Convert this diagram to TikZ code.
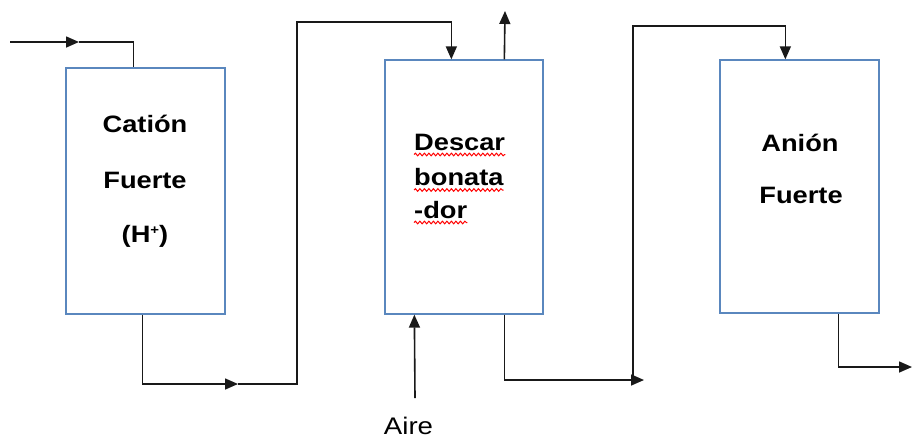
\documentclass[tikz,border=0pt]{standalone}
\usepackage{fontspec}
\setmainfont[FakeStretch=1.15]{Liberation Sans}
\usetikzlibrary{arrows.meta,calc,decorations.pathmorphing}
\definecolor{boxblue}{RGB}{90,135,190}
\begin{document}
\begin{tikzpicture}[x=1pt,y=-1pt,
  vessel/.style={draw=boxblue,line width=1.3pt,inner sep=0pt},
  conn/.style={draw=black!90,line width=1.6pt},
  tip/.style={-{Triangle[length=13pt,width=11pt]}},
  lbl/.style={font=\fontsize{23.7}{28}\selectfont\bfseries,inner sep=0pt,anchor=base},
  lblw/.style={font=\fontsize{23.7}{28}\selectfont\bfseries,inner sep=0pt,anchor=base west},
  plain/.style={font=\fontsize{24}{28}\selectfont,inner sep=0pt,anchor=base},
  wavy/.style={draw=red,line width=1pt,decorate,decoration={snake,amplitude=1.3pt,segment length=4.5pt}}]
\useasboundingbox (0,0) rectangle (912,440);

% vessels
\node[vessel,minimum width=159pt,minimum height=246pt] (cat) at (145.5,191) {};
\node[vessel,minimum width=158pt,minimum height=254pt] (dec) at (464,187) {};
\node[vessel,minimum width=159pt,minimum height=253pt] (ani) at (799.5,186.5) {};

% labels
\node[lbl] (t1) at (145,132) {Catión};
\node[lbl] (t2) at (145,188) {Fuerte};
\node[lbl] (t3) at (145,242) {(H\raisebox{8pt}{\fontsize{13}{13}\selectfont+})};

\node[lblw] (d1) at (414,150) {Descar};
\node[lblw] (d2) at (414,185.5) {bonata};
\node[lblw] (d3) at (414,218) {-dor};
\foreach \n in {d1,d2,d3}
  \draw[wavy] ($(\n.base west)+(0,4.5)$) -- ($(\n.base east)+(0,4.5)$);

\node[lbl] (a1) at (800,151) {Anión};
\node[lbl] (a2) at (801,203) {Fuerte};

\node[plain] (aire) at (408.5,434) {Aire};

% feed
\coordinate (src) at (10,42);
\coordinate (m1) at (79,42);
\draw[conn,tip] (src) -- (m1);
\draw[conn] (m1) -| ($(cat.north west)+(68,0)$);

% cation -> decarbonator
\coordinate (m2) at (238,384);
\draw[conn,tip] ($(cat.south west)+(77,0)$) |- (m2);
\draw[conn,tip] (m2) -- (297,384) -- (297,22) -| ($(dec.north west)+(67,0)$);

% gas vent
\coordinate (vent) at (505,11);
\draw[conn,tip] ($(dec.north west)+(120,0)$) -- (vent);

% air
\coordinate (airin) at (415,398);
\draw[conn,tip] (airin) -- ($(dec.south west)+(30,0)$);

% decarbonator -> anion
\coordinate (m3) at (644,380);
\draw[conn,tip] ($(dec.south west)+(120,0)$) |- (m3);
\draw[conn,tip] (633,380) -- (633,26) -| ($(ani.north west)+(66,0)$);

% product
\coordinate (out) at (912,367);
\draw[conn,tip] ($(ani.south west)+(119,0)$) |- (out);
\end{tikzpicture}
\end{document}
